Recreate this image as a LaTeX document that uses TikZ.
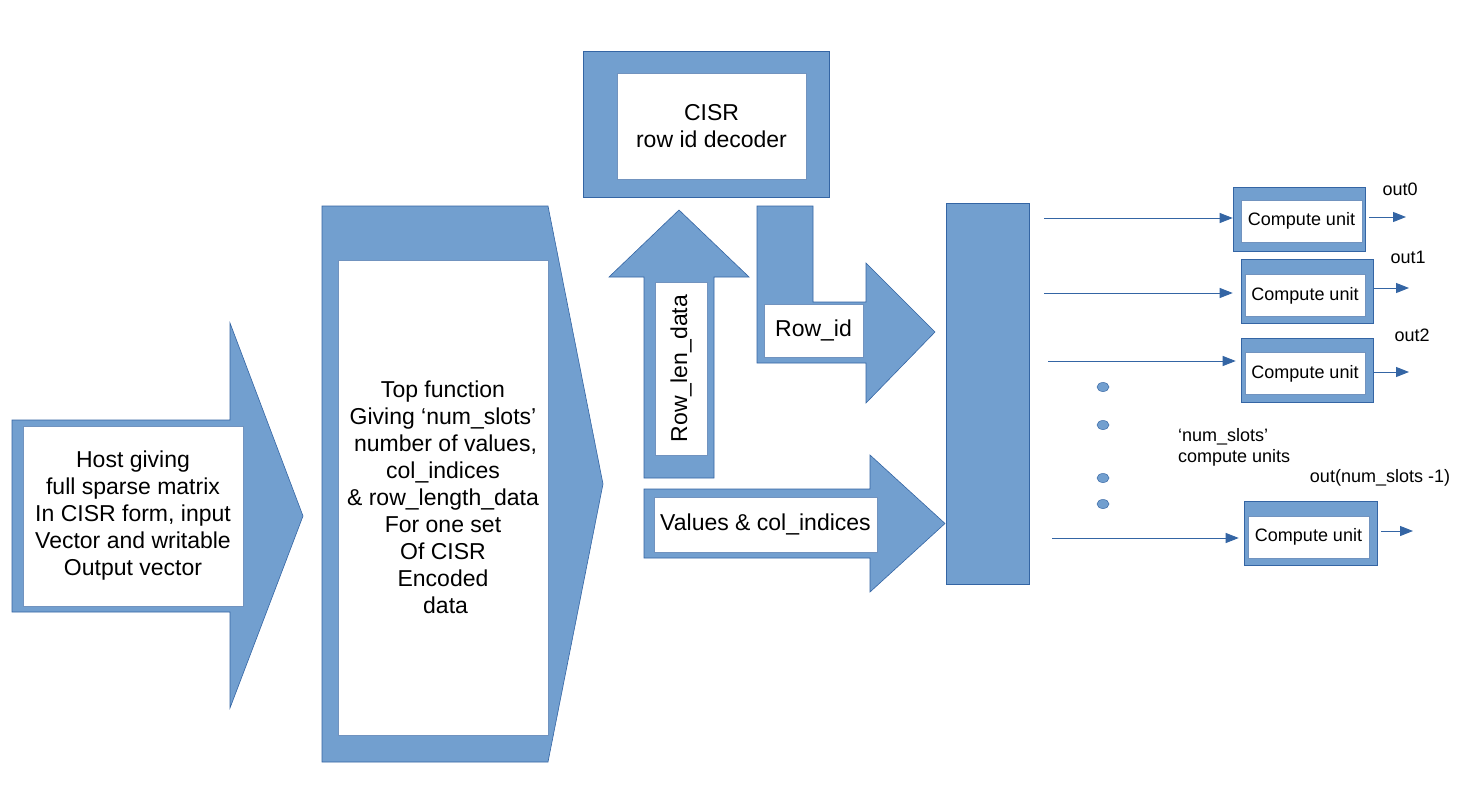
\documentclass[tikz,border=0pt]{standalone}
\usepackage{fontspec}
\setmainfont{Liberation Sans}
\usetikzlibrary{arrows.meta,calc}
\definecolor{bfill}{HTML}{729FCF}
\definecolor{bline}{HTML}{3465A4}
\newcommand\bigtxt{\fontsize{23}{27}\selectfont}
\newcommand\smtxt{\fontsize{18}{21}\selectfont}
\begin{document}
\begin{tikzpicture}[x=1pt,y=-1pt,
  blueshape/.style={fill=bfill,draw=bline,line width=0.6pt},
  wbox/.style={draw=bline!70,fill=white,line width=0.5pt,inner sep=0pt,align=center,font=\bigtxt},
  cuout/.style={fill=bfill,draw=bline,line width=0.6pt,minimum width=132pt,minimum height=64pt,inner sep=0pt},
  cuin/.style={draw=bline!70,fill=white,line width=0.5pt,minimum width=121pt,minimum height=42pt,inner sep=0pt,font=\smtxt},
  conn/.style={draw=bline,line width=1pt,-{Triangle[length=13pt,width=10pt]}},
  lbl/.style={font=\smtxt,inner sep=0pt,align=left},
  dot/.style={fill=bfill,draw=bline,line width=0.5pt}]
\useasboundingbox[fill=white] (0,0) rectangle (1475,789);

% Host arrow
\path[blueshape] (12,420) -- (230,420) -- (230,323) -- (303,516) -- (230,708) -- (230,612) -- (12,612) -- cycle;
\node[wbox,minimum width=220pt,minimum height=180pt] (host) at (133,516)
  {Host giving\\full sparse matrix\\In CISR form, input\\Vector and writable\\Output vector};

% Top function
\path[blueshape] (322,206) -- (548,206) -- (603,484) -- (548,762) -- (322,762) -- cycle;
\node[wbox,minimum width=210pt,minimum height=475pt] (top) at (443,497.5)
  {Top function\\Giving ‘num\_slots’\\\hphantom{i}number of values,\\col\_indices\\\& row\_length\_data\\For one set\\Of CISR\\Encoded\\\hphantom{i}data};

% CISR decoder
\node[blueshape,minimum width=246pt,minimum height=146pt,inner sep=0pt] (decO) at (706,124) {};
\node[wbox,minimum width=189pt,minimum height=106pt] (dec) at (711.5,126) {CISR\\row id decoder};

% Row_len_data up arrow
\path[blueshape] (644,478) -- (644,277) -- (609,277) -- (679,210) -- (749,277) -- (714,277) -- (714,478) -- cycle;
\node[wbox,minimum width=173pt,minimum height=52pt,rotate=90] (rowlen) at (681,368.5) {Row\_len\_data};

% Row_id bent arrow
\path[blueshape] (757,206) -- (813,206) -- (813,302) -- (866,302) -- (866,263) -- (935,332) -- (866,403) -- (866,363) -- (757,363) -- cycle;
\node[wbox,minimum width=99pt,minimum height=53pt] (rowid) at (813.5,330.5) {Row\_id};

% Values arrow
\path[blueshape] (644,489) -- (870,489) -- (870,455) -- (945,523.5) -- (870,592) -- (870,558) -- (644,558) -- cycle;
\node[wbox,minimum width=223pt,minimum height=55pt] (vals) at (765.5,524.5) {Values \& col\_indices};

% Bar
\node[blueshape,minimum width=83pt,minimum height=381pt,inner sep=0pt] (bar) at (987.5,393.5) {};

% Compute units
\node[cuout] (cu1o) at (1299,219) {};
\node[cuin] (cu1) at (1301.5,221) {Compute unit};
\node[cuout] (cu2o) at (1307,291) {};
\node[cuin,minimum width=120pt] (cu2) at (1305,295.5) {Compute unit};
\node[cuout] (cu3o) at (1307,370) {};
\node[cuin,minimum width=120pt] (cu3) at (1305,373.5) {Compute unit};
\node[cuout,minimum width=133pt] (cu4o) at (1310.5,533) {};
\node[cuin] (cu4) at (1308.5,537) {Compute unit};

% input coordinates
\coordinate (in1) at (1044,218);
\coordinate (in2) at (1044,293);
\coordinate (in3) at (1048,361);
\coordinate (in4) at (1052,538);
\draw[conn] (in1) -- (cu1o.west |- in1);
\draw[conn] (in2) -- ([xshift=-8pt]cu2o.west |- in2);
\draw[conn] (in3) -- ([xshift=-5pt]cu3o.west |- in3);
\draw[conn] (in4) -- ([xshift=-5pt]cu4o.west |- in4);

% outputs
\coordinate (o1) at (1406,217);
\coordinate (o2) at (1409,288);
\coordinate (o3) at (1409,372);
\coordinate (o4) at (1413,531);
\draw[conn] ([xshift=4pt]cu1o.east |- o1) -- (o1);
\draw[conn] (cu2o.east |- o2) -- (o2);
\draw[conn] (cu3o.east |- o3) -- (o3);
\draw[conn] ([xshift=4pt]cu4o.east |- o4) -- (o4);

\node[lbl] (l0) at (1400,189) {out0};
\node[lbl] (l1) at (1408,257) {out1};
\node[lbl] (l2) at (1412,335) {out2};
\node[lbl] (l3) at (1380,478) {out(num\_slots -1)};
\node[lbl,anchor=west] (ns) at (1178,447) {‘num\_slots’\\compute units};

% dots
\path[dot] (1103,387) ellipse [x radius=6pt,y radius=4.5pt];
\path[dot] (1103,425) ellipse [x radius=6pt,y radius=4.5pt];
\path[dot] (1103,478) ellipse [x radius=6pt,y radius=4.5pt];
\path[dot] (1103,504) ellipse [x radius=6pt,y radius=4.5pt];
\end{tikzpicture}
\end{document}
